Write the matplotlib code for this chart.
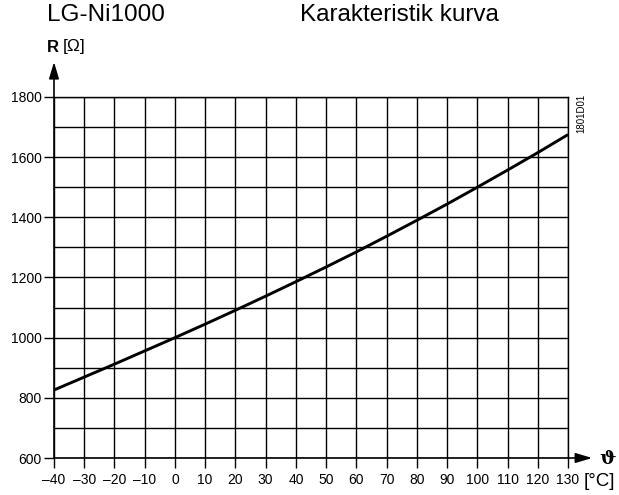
import matplotlib
matplotlib.use("Agg")
import matplotlib.pyplot as plt
from matplotlib.ticker import MultipleLocator

plt.rcParams['font.family'] = ['Liberation Sans', 'DejaVu Sans']

# Data
temperature = [-40, -30, -20, -10, 0, 10, 20, 30, 40, 50, 60, 70, 80, 90, 100, 110, 120, 130]
resistance = [826, 869, 912, 956, 1000, 1045, 1091, 1138, 1186, 1235, 1285, 1337, 1390, 1444, 1500, 1557, 1615, 1675]

x_ticks = list(range(-40, 131, 10))
x_labels = [("\u2013" + str(-v)) if v < 0 else str(v) for v in x_ticks]
y_ticks = [600, 800, 1000, 1200, 1400, 1600, 1800]

fig = plt.figure(figsize=(6.19, 4.95), dpi=100)
ax = fig.add_axes([54/619, 1-458/495, (568-54)/619, (458-97)/495])

ax.set_xlim(-40, 130)
ax.set_ylim(600, 1800)

ax.yaxis.set_minor_locator(MultipleLocator(100))
ax.set_xticks(x_ticks)
ax.set_xticklabels(x_labels)
ax.set_yticks(y_ticks)

ax.grid(which='both', color='black', linewidth=1.0)
ax.set_axisbelow(True)
for s in ['left', 'bottom']:
    ax.spines[s].set_visible(False)
for s in ['top', 'right']:
    ax.spines[s].set_linewidth(1.0)

ax.tick_params(axis='both', which='major', direction='out', length=7, width=1.0,
               labelsize=10, pad=2, colors='black')
ax.tick_params(axis='y', which='minor', length=0)
ax.tick_params(axis='x', pad=4)

ax.plot(temperature, resistance, color='black', linewidth=2.1, solid_capstyle='butt', zorder=3)

# Axis arrows
ax.annotate('', xy=(0, 1.097), xytext=(0, 0), xycoords='axes fraction',
            arrowprops=dict(arrowstyle='-|>,head_length=1.0,head_width=0.3', color='black',
                            lw=1.2, shrinkA=0, shrinkB=0), annotation_clip=False)
ax.annotate('', xy=(1.047, 0), xytext=(0, 0), xycoords='axes fraction',
            arrowprops=dict(arrowstyle='-|>,head_length=1.0,head_width=0.3', color='black',
                            lw=1.2, shrinkA=0, shrinkB=0), annotation_clip=False)

# Texts
fig.text(47/619, 1-15/495, "LG-Ni1000", fontsize=17.5, va='center', ha='left')
fig.text(300/619, 1-15/495, "Karakteristik kurva", fontsize=17.5, va='center', ha='left')
fig.text(47/619, 1-47/495, "R", fontsize=12, fontweight='bold', va='center', ha='left')
fig.text(63/619, 1-47/495, "[\u03a9]", fontsize=12.5, va='center', ha='left')
fig.text(599/619, 1-459/495, "\u03d1", fontsize=14, fontweight='bold', va='center', ha='left',
         family=['DejaVu Serif'])
fig.text(584/619, 1-482/495, "[°C]", fontsize=13.5, va='center', ha='left')
fig.text(581/619, 1-113/495, "1801D01", fontsize=7, rotation=90, va='center', ha='center')

fig.savefig("out.png", dpi=100)
